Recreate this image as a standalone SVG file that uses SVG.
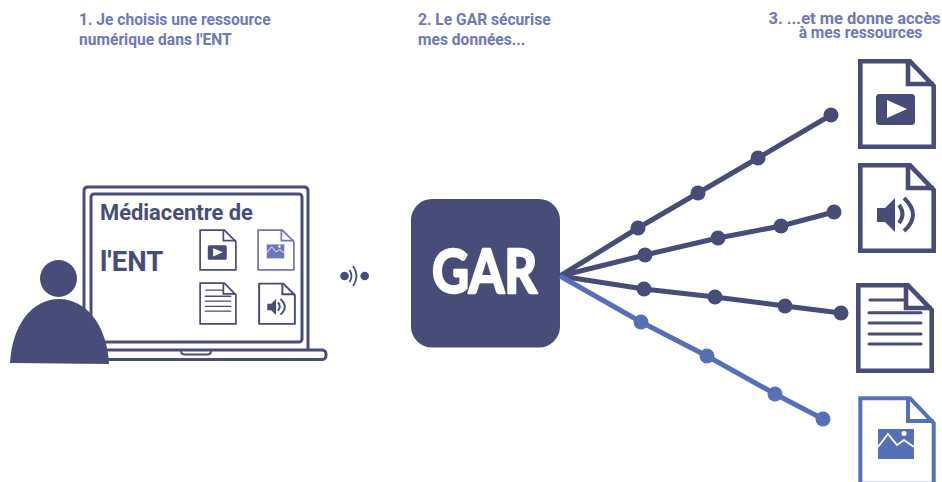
<svg xmlns="http://www.w3.org/2000/svg" width="942" height="482" viewBox="0 0 942 482">
<style>
.h{font-family:Roboto,"Liberation Sans",sans-serif;font-weight:700;font-size:15.6px;fill:#7077b8}
.m{font-family:Roboto,"Liberation Sans",sans-serif;font-weight:700;fill:#474d78}
.d{fill:#474d78}
.c{fill:none;stroke-width:5}
.dk{stroke:#474d78}.bl{stroke:#5570b6}
.dd{fill:#474d78}.db{fill:#5570b6}
</style>
<defs>
<g id="page" fill="none" stroke-linejoin="miter">
<path d="M2.300 2.300H52L75.700 27V87.700H2.300Z"/>
<path d="M50 2.300V25H75.700"/>
</g>
<g id="ivideo"><rect x="18" y="35" width="39" height="31" rx="3.500"/><path d="M29 41L49 50L29 59Z" fill="#fff"/></g>
<g id="iaudio"><path d="M19 45H27L37 35V69L27 59H19Z"/><path d="M41 42Q48 51 41 60M46 35Q64 52 46 68" fill="none" stroke-width="4" stroke="currentColor"/></g>
<g id="itext" fill="none" stroke-width="3" stroke-linecap="round"><path d="M14 17H49M13 29.700H65M13 40H65M13 51H65M13 61H65"/></g>
<g id="iimage"><rect x="20" y="33" width="36" height="30"/><path d="M20 51L30 38L39 49L46 44L56 51" fill="none" stroke="#fff" stroke-width="1.800"/><circle cx="46" cy="37.500" r="2.500" fill="#fff"/></g>
</defs>

<g id="titles">
<text class="h" x="79" y="25">1. Je choisis une ressource</text>
<text class="h" x="79" y="45">numérique dans l'ENT</text>
<text class="h" x="418" y="25">2. Le GAR sécurise</text>
<text class="h" x="418" y="45">mes données...</text>
<text class="h" x="854.500" y="24" text-anchor="middle" style="font-size:16.5px">3. ...et me donne accès</text>
<text class="h" x="860.500" y="38" text-anchor="middle">à mes ressources</text>
</g>

<g id="laptop">
<path d="M84 349V191Q84 187 88 187H304Q308 187 308 191V349" fill="none" stroke="#474d78" stroke-width="3"/>
<rect x="91" y="194" width="211" height="148" rx="3" fill="none" stroke="#474d78" stroke-width="3"/>
<rect x="100" y="350" width="226" height="9.500" rx="4" fill="none" stroke="#474d78" stroke-width="3"/>
<path d="M181 351Q181 354.500 185 354.500H207Q211 354.500 211 351" fill="none" stroke="#474d78" stroke-width="2"/>
<text class="m" x="100" y="220" font-size="21.900">Médiacentre de</text>
<text class="m" x="100" y="271" font-size="27.500">l'ENT</text>
</g>

<g id="mini-video" transform="translate(199 229) scale(.4872 .4667)" fill="#474d78"><use href="#page" stroke="#474d78" stroke-width="3.500"/><use href="#ivideo"/></g>
<g id="mini-image" transform="translate(257 229) scale(.4872 .4667)" fill="#6f78b8"><use href="#page" stroke="#7077b8" stroke-width="3.500"/><use href="#iimage"/></g>
<g id="mini-text" transform="translate(199 282) scale(.4872 .4778)"><use href="#page" stroke="#474d78" stroke-width="3.500"/><use href="#itext" stroke="#474d78"/></g>
<g id="mini-audio" transform="translate(258 282.500) scale(.4872 .4722)" fill="#474d78" color="#474d78"><use href="#page" stroke="#474d78" stroke-width="4"/><use href="#iaudio"/></g>

<g id="person">
<circle cx="58.500" cy="278.500" r="18.500" class="d"/>
<path d="M10 363C12 325 32 299 59 299C86 299 107 325 109 364Z" class="d"/>
</g>

<g id="signal" fill="none" stroke="#474d78" stroke-width="1.800">
<circle cx="344.500" cy="276" r="4.300" fill="#474d78" stroke="none"/>
<circle cx="364.700" cy="276" r="4.300" fill="#474d78" stroke="none"/>
<path d="M349.500 270Q353.500 276 349.500 282M353 266Q360 276 353 286"/>
</g>

<g id="gar">
<rect x="411" y="199" width="149" height="148.500" rx="21" class="d"/>
<text x="484.500" y="293" text-anchor="middle" font-family="Lato,'Open Sans',sans-serif" font-weight="700" font-size="61" fill="#fff" stroke="#fff" stroke-width="2.500" stroke-linejoin="round" textLength="105" lengthAdjust="spacingAndGlyphs">GAR</text>
</g>

<g id="connectors">
<path class="c dk" d="M560 276L638 228L698 193L758 158L831 115"/>
<path class="c dk" d="M560 276L645 255L718 238L781 226L834 212"/>
<path class="c dk" d="M560 276L644 289L715 297L785 306L841 313"/>
<path class="c bl" d="M560 276L641 322L707 356L775 394L823 419"/>
<g class="dd">
<circle cx="638" cy="228" r="7.500"/><circle cx="698" cy="193" r="7.500"/><circle cx="758" cy="158" r="7.500"/><circle cx="831" cy="115" r="7.500"/>
<circle cx="645" cy="255" r="7.500"/><circle cx="718" cy="238" r="7.500"/><circle cx="781" cy="226" r="7.500"/><circle cx="834" cy="212" r="7.500"/>
<circle cx="644" cy="289" r="7.500"/><circle cx="715" cy="297" r="7.500"/><circle cx="785" cy="306" r="7.500"/><circle cx="841" cy="313" r="7.500"/>
</g>
<g class="db">
<circle cx="641" cy="322" r="7.500"/><circle cx="707" cy="356" r="7.500"/><circle cx="775" cy="394" r="7.500"/><circle cx="823" cy="419" r="7.500"/>
</g>
</g>

<g id="doc-video" transform="translate(858 59)" fill="#474d78"><use href="#page" stroke="#474d78" stroke-width="4.600"/><use href="#ivideo"/></g>
<g id="doc-audio" transform="translate(858 163)" fill="#474d78" color="#474d78"><use href="#page" stroke="#474d78" stroke-width="4.600"/><use href="#iaudio"/></g>
<g id="doc-text" transform="translate(856 283)"><use href="#page" stroke="#474d78" stroke-width="4.600"/><use href="#itext" stroke="#474d78"/></g>
<g id="doc-image" transform="translate(858 396)" fill="#5570b6"><use href="#page" stroke="#5570b6" stroke-width="4"/><use href="#iimage"/></g>
</svg>
